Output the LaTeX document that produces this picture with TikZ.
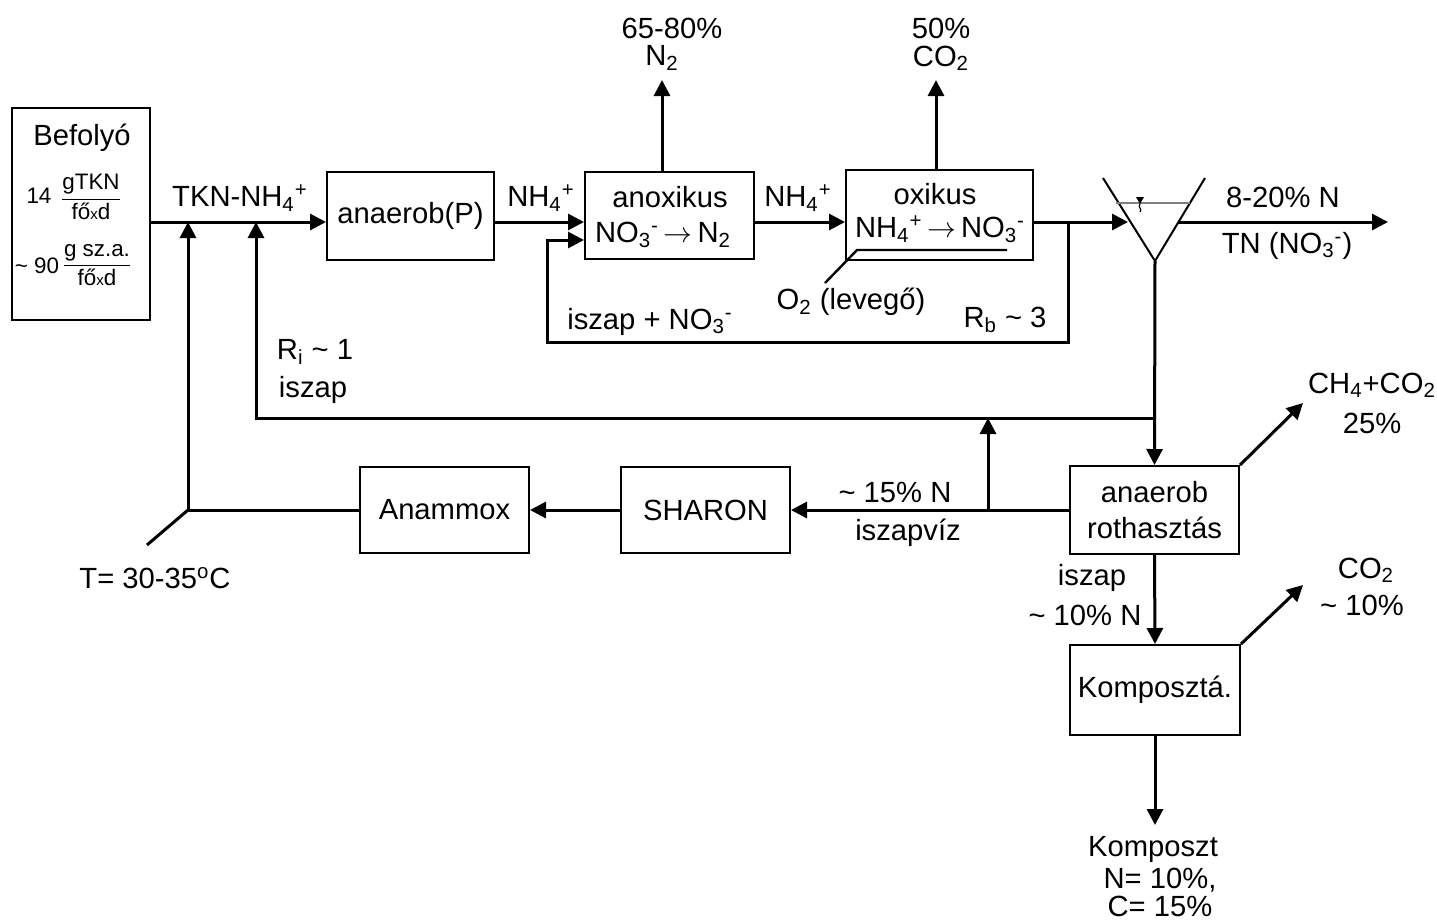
\documentclass[tikz,border=0pt]{standalone}
\usepackage{fontspec}
\setmainfont{Liberation Sans}
\usetikzlibrary{arrows.meta}
\newcommand{\fs}{\fontsize{14.6}{17}\selectfont}
\newcommand{\fsm}{\fontsize{11.2}{13}\selectfont}
\newcommand{\sbs}[1]{\textsubscript{#1}}
\newcommand{\sps}[1]{\textsuperscript{#1}}
\newcommand{\tl}{\textasciitilde}
\newcommand{\ra}{\,$\rightarrow$\,}
\newcommand{\fox}{fő{\fontsize{7.5}{8}\selectfont x}d}
\begin{document}
\begin{tikzpicture}[x=0.5pt,y=-0.5pt,
  box/.style={draw, line width=1pt, inner sep=0pt, font=\fs, align=center},
  ln/.style={line width=1.5pt},
  arr/.style={line width=1.5pt, -{Triangle[length=8pt,width=8pt]}},
  lbl/.style={font=\fs, inner sep=0pt, align=center}]
\useasboundingbox (0,0) rectangle (1437,923);

% boxes
\node[box, minimum width=69pt, minimum height=106pt] (bef) at (81,214) {};
\node[lbl] (beft) at (82,138) {Befolyó};
\node[lbl, font=\fsm] (f14) at (39,196) {14};
\node[lbl, font=\fsm] (f14f) at (91,197) {$\displaystyle\frac{\hbox{gTKN}}{\hbox{\fox}}$};
\node[lbl, font=\fsm] (f90) at (37,266) {\tl{} 90};
\node[lbl, font=\fsm] (f90f) at (97,265) {$\displaystyle\frac{\hbox{g sz.a.}}{\hbox{\fox}}$};

\node[box, minimum width=83.5pt, minimum height=44pt] (anp) at (410.5,216) {anaerob(P)};
\node[box, minimum width=84.5pt, minimum height=43.5pt] (anx) at (669.5,215.5) {};
\node[lbl] (anxt1) at (670,197) {anoxikus};
\node[lbl] (anxt2) at (663,235) {NO\sbs{3}\sps{-}\ra N\sbs{2}};
\node[box, minimum width=93.5pt, minimum height=45pt] (oxi) at (939.5,215) {};
\node[lbl] (oxit1) at (935,194) {oxikus};
\node[lbl] (oxit2) at (940,229) {NH\sbs{4}\sps{+}\ra NO\sbs{3}\sps{-}};
\node[box, minimum width=84.5pt, minimum height=44pt] (rot) at (1154.5,510) {anaerob\\[1pt]rothasztás};
\node[box, minimum width=84.5pt, minimum height=43pt] (sha) at (705.5,510) {SHARON};
\node[box, minimum width=84.5pt, minimum height=43pt] (ana) at (444.5,510) {Anammox};
\node[box, minimum width=85pt, minimum height=45pt] (kom) at (1155,690) {Komposztá.};

% coordinates
\coordinate (j1) at (188,222);
\coordinate (j2) at (256,222);
\coordinate (t0) at (188,510);
\coordinate (tdiag) at (147,545);
\coordinate (s1) at (1155,418);
\coordinate (v1) at (988,510);
\coordinate (rb0) at (1068,222);
\coordinate (rb2) at (547,342);
\coordinate (rb3) at (547,240);
\coordinate (n2) at (662,80);
\coordinate (c2) at (936,80);
\coordinate (clL) at (1103,178);
\coordinate (clR) at (1205,178);
\coordinate (clB) at (1155,261);
\coordinate (clin) at (1128,222);
\coordinate (clout) at (1178,222);
\coordinate (out) at (1388,222);
\coordinate (g1) at (1303,403);
\coordinate (g2) at (1303,585);
\coordinate (kend) at (1155,825);
\coordinate (air1) at (1007,250);
\coordinate (air2) at (857,250);
\coordinate (air3) at (825,283);

% main line
\draw[arr] (bef.east |- j1) -- (j1 -| anp.west);
\draw[arr] (anp.east |- j1) -- (j1 -| anx.west);
\draw[arr] (anx.east |- j1) -- (j1 -| oxi.west);
\draw[arr] (oxi.east |- j1) -- (clin);
\draw[arr] (clout) -- (out);
% recirculation
\draw[arr] (rb0) |- (rb2) -- (rb3) -- (rb3 -| anx.west);
% gas outlets
\draw[arr] (n2 |- anx.north) -- (n2);
\draw[arr] (c2 |- oxi.north) -- (c2);
% clarifier
\draw[line width=1pt] (clL) -- (clB) -- (clR);
\draw[gray, line width=0.8pt] (1116,203) -- (1190,203);
\fill (1136,197) -- (1144,197) -- (1140,204) -- cycle;
\draw[line width=0.6pt] (1140,204) .. controls (1137,207) and (1143,209) .. (1140,212);
% sludge return
\draw[arr] (clB) -- (rot.north);
\draw[arr] (s1) -| (j2);
% reject water
\draw[arr] (rot.west |- v1) -- (sha.east |- v1);
\draw[arr] (v1) -- (v1 |- s1);
\draw[arr] (sha.west) -- (ana.east);
\draw[arr] (ana.west) -| (j1);
\draw[ln] (t0) -- (tdiag);
% digester / compost
\draw[arr] (rot.north east) -- (g1);
\draw[arr] (rot.south) -- (kom.north);
\draw[arr] (kom.north east) -- (g2);
\draw[arr] (kom.south) -- (kend);
% air
\draw[line width=1.2pt] (air1) -- (air2) -- (air3);

% labels
\node[lbl] (l1) at (240,198) {TKN-NH\sbs{4}\sps{+}};
\node[lbl] (l2) at (541,198) {NH\sbs{4}\sps{+}};
\node[lbl] (l3) at (798,198) {NH\sbs{4}\sps{+}};
\node[lbl] (l4) at (672,28) {65-80\%};
\node[lbl] (l5) at (662,58) {N\sbs{2}};
\node[lbl] (l6) at (941,28) {50\%};
\node[lbl] (l7) at (941,58) {CO\sbs{2}};
\node[lbl] (l8) at (1283,197) {8-20\% N};
\node[lbl] (l9) at (1287,246) {TN (NO\sbs{3}\sps{-})};
\node[lbl] (l10) at (650,322) {iszap + NO\sbs{3}\sps{-}};
\node[lbl] (l11) at (851,302) {O\sbs{2} (levegő)};
\node[lbl] (l12) at (1005,320) {R\sbs{b} \tl{} 3};
\node[lbl] (l13) at (315,352) {R\sbs{i} \tl{} 1};
\node[lbl] (l14) at (313,390) {iszap};
\node[lbl] (l15) at (1372,385) {CH\sbs{4}+CO\sbs{2}};
\node[lbl] (l16) at (1372,423) {25\%};
\node[lbl] (l17) at (895,493) {\tl{} 15\% N};
\node[lbl] (l18) at (908,533) {iszapvíz};
\node[lbl] (l19) at (1092,578) {iszap};
\node[lbl] (l20) at (1085,615) {\tl{} 10\% N};
\node[lbl] (l21) at (1366,570) {CO\sbs{2}};
\node[lbl] (l22) at (1362,605) {\tl{} 10\%};
\node[lbl] (l23) at (155,578) {T= 30-35\sps{o}C};
\node[lbl] (l24) at (1153,849) {Komposzt};
\node[lbl] (l25) at (1160,880) {N= 10\%,};
\node[lbl] (l26) at (1160,906) {C= 15\%};
\end{tikzpicture}
\end{document}
